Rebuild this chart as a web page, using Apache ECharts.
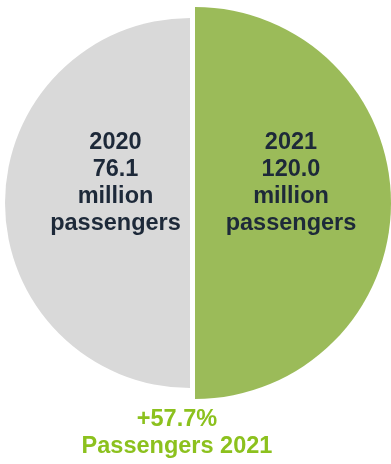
<!DOCTYPE html>
<html>
<head>
<meta charset="utf-8">
<script src="https://cdn.jsdelivr.net/npm/echarts@6/dist/echarts.min.js"></script>
<style>
  html, body { margin: 0; padding: 0; background: #ffffff; }
  #chart { width: 391px; height: 464px; }
</style>
</head>
<body>
<div id="chart"></div>
<script>
// Passenger totals, millions
const years = ['2020', '2021'];
const passengers = [76.1, 120.0];
const growthText = '+57.7%';
const growthCaption = 'Passengers 2021';

const fontFamily = '"Liberation Sans", Arial, sans-serif';

function halfLabel(params) {
  return params.name + '\n' + params.value.toFixed(1) + '\nmillion\npassengers';
}

const labelStyle = {
  show: true,
  position: 'inside',
  formatter: halfLabel,
  color: '#1d2939',
  fontFamily: fontFamily,
  fontWeight: 'bold',
  fontSize: 23.5,
  lineHeight: 27,
  align: 'center'
};

const chart = echarts.init(document.getElementById('chart'));
chart.setOption({
  animation: false,
  title: {
    text: growthText + '\n' + growthCaption,
    left: 172,
    top: 401,
    textAlign: 'center',
    textStyle: {
      color: '#8cc11e',
      fontFamily: fontFamily,
      fontWeight: 'bold',
      fontSize: 23.5,
      lineHeight: 27
    }
  },
  series: [
    {
      // left half: 2020
      type: 'pie',
      center: [190, 203],
      radius: [0, 185],
      startAngle: 270,
      endAngle: 90,
      clockwise: true,
      silent: true,
      itemStyle: { color: '#d9d9d9' },
      label: labelStyle,
      labelLine: { show: false },
      labelLayout: { dx: 21, dy: -20 },
      data: [{ name: years[0], value: passengers[0] }]
    },
    {
      // right half: 2021
      type: 'pie',
      center: [195, 203],
      radius: [0, 196],
      startAngle: 90,
      endAngle: -90,
      clockwise: true,
      silent: true,
      itemStyle: { color: '#9bbb59' },
      label: labelStyle,
      labelLine: { show: false },
      labelLayout: { dx: -5, dy: -20 },
      data: [{ name: years[1], value: passengers[1] }]
    }
  ]
});
</script>
</body>
</html>
